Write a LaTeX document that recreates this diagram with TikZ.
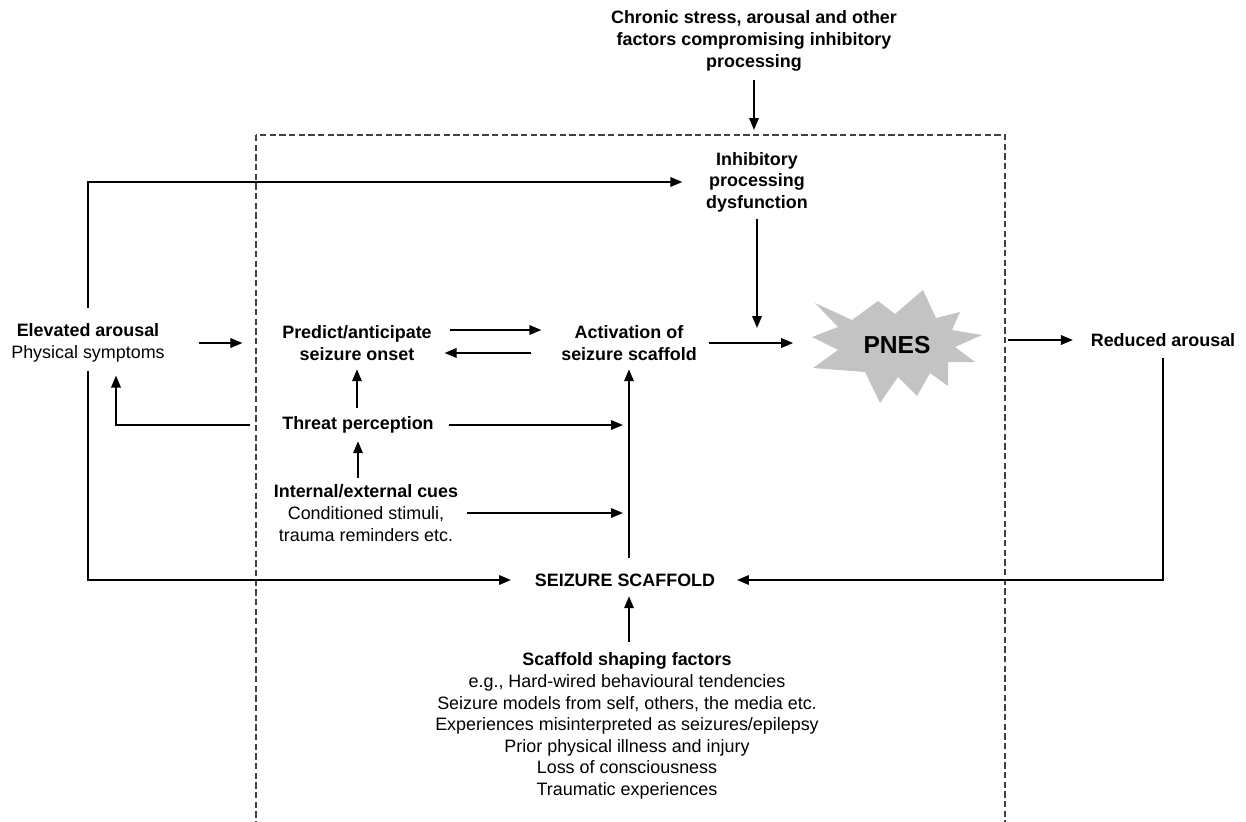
\documentclass[tikz,border=0pt]{standalone}
\usepackage{fontspec}
\setmainfont{Liberation Sans}
\usepackage{xcolor}
\usepackage{tikz}
\usetikzlibrary{arrows,arrows.meta,calc,positioning}
\definecolor{starGray}{HTML}{C3C3C3}
\definecolor{frameGray}{HTML}{404040}
\tikzset{PNES style/.style={>={Triangle[length=6.8pt,width=5.4pt]},line width=1pt,
	frame/.style={draw=frameGray,line width=0.6pt,dash pattern=on 3.6pt off 1.9pt}}}

\begin{document}
\begin{tikzpicture}[x=0.02cm,y=-0.02cm,PNES style]
	\tikzstyle{lbl}=[align=center,inner sep=2pt,font=\fontsize{10.2}{12.3}\selectfont]
	\tikzstyle{blbl}=[lbl,font=\fontsize{10.2}{12.3}\selectfont\bfseries]
	
	\clip (0,0) rectangle (1246,821);
	
	\coordinate (fnw) at (256,135);
	\coordinate (fse) at (1005,860);
	\draw[frame] (fnw) rectangle (fse);
	
	\fill[starGray] (815,303) -- (852,320) -- (878,301) -- (895,314) -- (923,290)
	-- (936,318) -- (960,312) -- (952,330) -- (982,335) -- (955,347) -- (975,362)
	-- (948,362) -- (948,386) -- (930,373) -- (917,396) -- (898,377) -- (880,403)
	-- (865,372) -- (813,368) -- (838,350) -- (812,337) -- (838,327) -- cycle;
	
	\node[blbl] (chronic) at (754,41) {Chronic stress, arousal and other\\factors compromising inhibitory\\processing};
	\node[blbl] (inhib) at (757,182) {Inhibitory\\processing\\dysfunction};
	\node[lbl] (elev) at (88,343) {\textbf{Elevated arousal}\\Physical symptoms};
	\node[blbl] (pred) at (357,343) {Predict/anticipate\\seizure onset};
	\node[blbl] (act) at (629,343) {Activation of\\seizure scaffold};
	\node[blbl,font=\fontsize{14}{16}\selectfont\bfseries,minimum width=4cm,minimum height=2.2cm] (pnes) at (897,345) {PNES};
	\node[blbl] (red) at (1163,340) {Reduced arousal};
	\node[blbl] (threat) at (358,425) {Threat perception};
	\node[lbl] (cues) at (366,513) {\textbf{Internal/external cues}\\Conditioned stimuli,\\trauma reminders etc.};
	\node[blbl] (scaf) at (625,580) {SEIZURE SCAFFOLD};
	\node[lbl] (shape) at (627,726) {\textbf{Scaffold shaping factors}\\e.g., Hard-wired behavioural tendencies\\Seizure models from self, others, the media etc.\\Experiences misinterpreted as seizures/epilepsy\\Prior physical illness and injury\\Loss of consciousness\\Traumatic experiences};
	
	\path[->,shorten <=0.09cm,shorten >=0.1cm] (chronic.south) edge (chronic.south |- fnw);
	\path[->,shorten <=0.05cm,shorten >=0.3cm] (inhib.south) edge (inhib.south |- act.east);
	
	\path[->,shorten <=0.59cm,shorten >=0.71cm] (elev.east) edge (pred.west);
	\path[->,shorten <=0.27cm,shorten >=0.31cm] ([yshift=0.26cm]pred.east) edge ([yshift=0.26cm]act.west);
	\path[->,shorten <=0.51cm,shorten >=0.17cm] ([yshift=-0.2cm]act.west) edge ([yshift=-0.2cm]pred.east);
	\path[->,shorten <=0.15cm,shorten >=0.06cm] (act.east) edge (act.east -| pnes.west);
	\path[->,shorten <=0.2cm,shorten >=0.27cm] (red.west -| pnes.east) edge (red.west);
	
	\path[->,shorten <=0.09cm,shorten >=0.09cm] (threat.north -| pred.south) edge (pred.south);
	\path[->,shorten <=0.05cm,shorten >=0.07cm] (cues.north -| threat.south) edge (threat.south);
	\path[->,shorten <=0.21cm,shorten >=0.12cm] (threat.east) edge (threat.east -| act.south);
	\path[->,shorten <=0.08cm,shorten >=0.12cm] (cues.east) edge (cues.east -| act.south);
	\path[->,shorten <=0.22cm,shorten >=0.09cm] (scaf.north -| act.south) edge (act.south);
	\path[->,shorten <=0.13cm,shorten >=0.11cm] (shape.north -| act.south) edge (scaf.south -| act.south);
	
	\draw[->,shorten <=0.55cm,shorten >=0.18cm] (threat.west) -| ([xshift=0.56cm]elev.south);
	\draw[->,shorten <=0.23cm,shorten >=0.39cm] (elev.north) |- (inhib.west);
	\draw[->,shorten <=0.08cm,shorten >=0.39cm] (elev.south) |- (scaf.west);
	\draw[->,shorten <=0.14cm,shorten >=0.35cm] (red.south) |- (scaf.east);
\end{tikzpicture}
\end{document}
